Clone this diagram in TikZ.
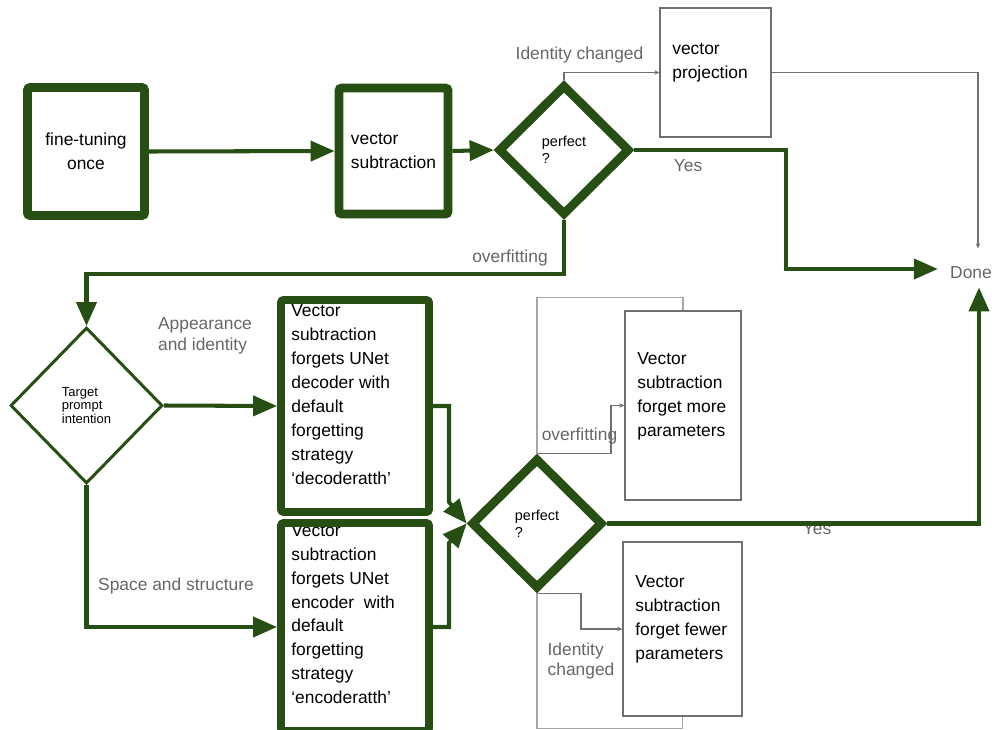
\documentclass[tikz,border=0pt]{standalone}
\usepackage{fontspec}
\setmainfont{Liberation Sans}
\usetikzlibrary{arrows.meta,shapes.geometric}
\definecolor{flowgreen}{HTML}{274E13}
\definecolor{labelgray}{HTML}{666666}
\definecolor{boxgray}{HTML}{707070}
\definecolor{loopgray}{HTML}{A6A6A6}
\tikzset{
  bigbox/.style={draw=flowgreen,line width=5pt,rounded corners=1.5pt,inner sep=0pt},
  thinbox/.style={draw=boxgray,line width=0.6pt,inner sep=0pt},
  bigdiam/.style={diamond,draw=flowgreen,line width=5pt,inner sep=0pt,align=left,font=\fontsize{8.2}{9.6}\selectfont},
  boxtext/.style={inner sep=0pt,align=left,font=\fontsize{9.9}{13.6}\selectfont},
  graylabel/.style={text=labelgray,inner sep=0pt,align=left,font=\fontsize{9.9}{11.7}\selectfont},
  flow/.style={draw=flowgreen,line width=2.3pt,-{Triangle[length=4.8mm,width=4mm]}},
  thinflow/.style={draw=boxgray,line width=0.6pt,-{Stealth[length=3pt,width=2.5pt]}},
  loopline/.style={draw=loopgray,line width=0.6pt}
}
\begin{document}
\begin{tikzpicture}[x=0.02cm,y=-0.02cm]
  \useasboundingbox (0,0) rectangle (992,730);
  \clip (0,0) rectangle (992,730);
  % first row
  \node [bigbox,boxtext,align=center,minimum width=23.4mm,minimum height=25.6mm] (fine) at (86,151.5) {fine-tuning\\once};
  \node [bigbox,boxtext,minimum width=21.8mm,minimum height=25.2mm] (vsub) at (393.5,151) {vector\\subtraction};
  \node [bigdiam,minimum width=26.4mm,minimum height=26.2mm] (perf1) at (564,150) {perfect\\?};
  \node [boxtext,anchor=north west] (projtxt) at (672,43) {vector\\projection};
  \node [thinbox,minimum width=22.2mm,minimum height=25.8mm] (proj) at (715.5,72.5) {};
  \node [graylabel,inner sep=3.4pt] (done) at (971,273) {Done};
  \coordinate (doneN) at ([shift={(7,-12)}]done.north);
  \coordinate (doneS) at ([shift={(8,2)}]done.south);
  \coordinate (doneW) at ([shift={(-6,-4)}]done.west);
  % second row
  \node [bigdiam,line width=1.7pt,font=\fontsize{7.4}{7.8}\selectfont,minimum width=30.4mm,minimum height=31.2mm] (target) at (86.5,405.5) {Target\\prompt\\intention};
  \node [boxtext,anchor=north west] (dectxt) at (291,304.5) {Vector\\subtraction\\forgets UNet\\decoder with\\default\\forgetting\\strategy\\‘decoderatth’};
  \node [bigbox,line width=4.5pt,minimum width=29.6mm,minimum height=42.4mm] (dec) at (355,406) {};
  \node [boxtext,anchor=north west] (enctxt) at (291,524) {Vector\\subtraction\\forgets UNet\\encoder\ \ with\\default\\forgetting\\strategy\\‘encoderatth’};
  \node [bigbox,line width=4.5pt,minimum width=29.6mm,minimum height=41.6mm] (enc) at (355,627) {};
  \node [bigdiam,minimum width=26.4mm,minimum height=26.2mm] (perf2) at (537,523.5) {perfect\\?};
  \node [boxtext,anchor=north west] (moretxt) at (637,352) {Vector\\subtraction\\forget more\\parameters};
  \node [thinbox,minimum width=23.2mm,minimum height=37.8mm] (more) at (683,405.5) {};
  \node [boxtext,anchor=north west] (fewertxt) at (635,575) {Vector\\subtraction\\forget fewer\\parameters};
  \node [thinbox,minimum width=23.8mm,minimum height=34.8mm] (fewer) at (682.5,629) {};
  % labels
  \node [graylabel] (idlbl1) at (579.5,55) {Identity changed};
  \node [graylabel] (yes1) at (688,166) {Yes};
  \node [graylabel] (ovf1) at (510,258) {overfitting};
  \node [graylabel] (applbl) at (205,336) {Appearance\\and identity};
  \node [graylabel] (spclbl) at (176,586) {Space and structure};
  \node [graylabel] (ovf2) at (579.5,436) {overfitting};
  \node [graylabel] (idlbl2) at (581,661) {Identity\\changed};
  \node [graylabel] (yes2) at (817,529) {Yes};
  % connectors
  \draw [flow] (fine.east) -- (vsub.west);
  \draw [flow] (vsub.east) -- (perf1.west);
  \draw [thinflow] (perf1.north) |- (proj.west);
  \draw [thinflow] (proj.east) -| (doneN);
  \draw [flow] (perf1.east) -- (786,150) |- (doneW);
  \draw [flow] (perf1.south) -- ++(0,54) -| (target.north);
  \draw [flow] (target.east) -- (dec.west);
  \draw [flow] (target.south) |- (enc.west);
  \draw [flow] (dec.east) -| (449,502) -- (perf2.west);
  \draw [flow] (enc.east) -| (449,543) -- (perf2.west);
  \draw [flow] (perf2.east) -| (doneS);
  \draw [thinflow] (perf2.north) -| (611,405.5) -- (more.west);
  \draw [thinflow] (perf2.south) -| (581,629) -- (fewer.west);
  \draw [loopline] (perf2.north) -- ++(0,-156) -| (more.north);
  \draw [loopline] (perf2.south) -- ++(0,135) -| (fewer.south);
\end{tikzpicture}
\end{document}
